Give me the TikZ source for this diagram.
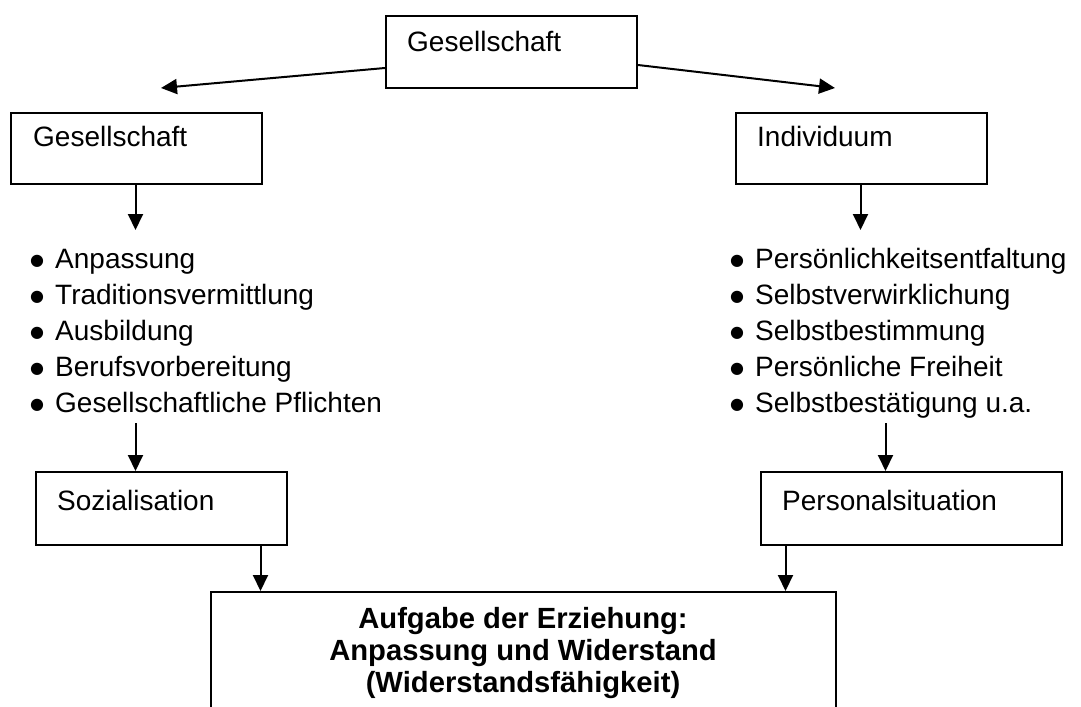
\documentclass[tikz,border=0pt]{standalone}
\usepackage{fontspec}
\setmainfont{Liberation Sans}
\newfontfamily\bulfont{DejaVu Sans}
\usetikzlibrary{arrows.meta}
\newcommand{\bigbul}{\makebox[25bp][l]{\raisebox{3bp}{\bulfont\fontsize{16bp}{16bp}\selectfont ●}}}
\begin{document}
\begin{tikzpicture}[x=1bp,y=-1bp,
  box/.style={draw, line width=2bp, inner sep=0pt, anchor=north west},
  lbl/.style={anchor=base west, inner sep=0pt, font=\fontsize{28bp}{36bp}\selectfont},
  bld/.style={anchor=base, inner sep=0pt, font=\fontsize{29.2bp}{33bp}\selectfont\bfseries},
  arr/.style={line width=2bp, -{Triangle[length=16bp,width=15bp]}}]
\useasboundingbox (0,0) rectangle (1081,707);
\fill[white] (0,0) rectangle (1081,707);
\clip (0,0) rectangle (1081,707);
% boxes
\node[box, minimum width=251bp, minimum height=72bp] (top) at (385,15) {};
\node[lbl] (topt) at (407,52) {Gesellschaft};
\node[box, minimum width=251bp, minimum height=71bp] (ges) at (10,112) {};
\node[lbl] (gest) at (33,147) {Gesellschaft};
\node[box, minimum width=251bp, minimum height=71bp] (ind) at (735,112) {};
\node[lbl] (indt) at (757,147) {Individuum};
\node[box, minimum width=251bp, minimum height=73bp] (soz) at (35,471) {};
\node[lbl] (sozt) at (57,510) {Sozialisation};
\node[box, minimum width=301bp, minimum height=73bp] (pers) at (760,471) {};
\node[lbl] (perst) at (782,510) {Personalsituation};
\node[box, minimum width=625bp, minimum height=200bp] (bot) at (210,591) {};
\node[bld] (e1) at (523,628) {Aufgabe der Erziehung:};
\node[bld] (e2) at (523,660) {Anpassung und Widerstand};
\node[bld] (e3) at (523,692) {(Widerstandsfähigkeit)};
% lists
\foreach \t [count=\i] in {Anpassung,Traditionsvermittlung,Ausbildung,Berufsvorbereitung,Gesellschaftliche Pflichten}
  \node[lbl] (l\i) at (30,232+36*\i) {\bigbul\t};
\foreach \t [count=\i] in {Persönlichkeitsentfaltung,Selbstverwirklichung,Selbstbestimmung,Persönliche Freiheit,Selbstbestätigung u.a.}
  \node[lbl] (r\i) at (730,232+36*\i) {\bigbul\t};
% free ends
\coordinate (la) at (161,88);
\coordinate (ra) at (835,88);
\coordinate (gd) at (135.5,230);
\coordinate (id) at (860.5,230);
\coordinate (lu) at (135.5,423);
\coordinate (ru) at (885.5,423);
\coordinate (sx) at (260.5,0);
\coordinate (px) at (785.5,0);
% arrows
\draw[arr] ([yshift=21bp]top.south west) -- (la);
\draw[arr] ([yshift=24bp]top.south east) -- (ra);
\draw[arr] (gd |- ges.south) -- (gd);
\draw[arr] (id |- ind.south) -- (id);
\draw[arr] (lu) -- (lu |- soz.north);
\draw[arr] (ru) -- (ru |- pers.north);
\draw[arr] (sx |- soz.south) -- (sx |- bot.north);
\draw[arr] (px |- pers.south) -- (px |- bot.north);
\end{tikzpicture}
\end{document}
